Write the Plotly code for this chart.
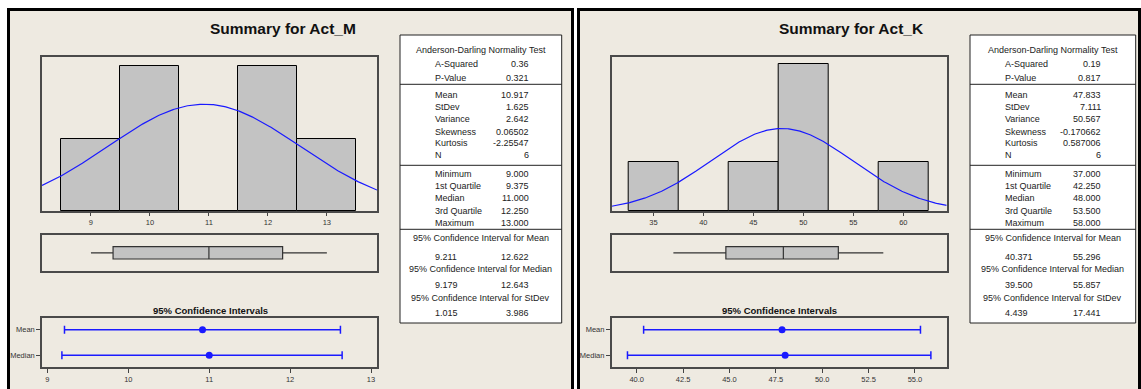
import numpy as np
import plotly.graph_objects as go

W, H = 1141, 389

# ---------------- data ----------------
M_name = "Act_M"
M_bin_centers = [9, 10, 11, 12, 13]
M_counts = [1, 2, 0, 2, 1]
M_mean, M_sd, M_n = 10.917, 1.625, 6
M_min, M_q1, M_median, M_q3, M_max = 9.0, 9.375, 11.0, 12.25, 13.0
M_ci_mean = [9.211, 12.622]
M_ci_median = [9.179, 12.643]
M_values_str = ["0.36", "0.321", "10.917", "1.625", "2.642", "0.06502", "-2.25547", "6",
                "9.000", "9.375", "11.000", "12.250", "13.000"]
M_ci_str = [["9.211", "12.622"], ["9.179", "12.643"], ["1.015", "3.986"]]

K_name = "Act_K"
K_bin_centers = [35, 40, 45, 50, 55, 60]
K_counts = [1, 0, 1, 3, 0, 1]
K_mean, K_sd, K_n = 47.833, 7.111, 6
K_min, K_q1, K_median, K_q3, K_max = 37.0, 42.25, 48.0, 53.5, 58.0
K_ci_mean = [40.371, 55.296]
K_ci_median = [39.5, 55.857]
K_values_str = ["0.19", "0.817", "47.833", "7.111", "50.567", "-0.170662", "0.587006", "6",
                "37.000", "42.250", "48.000", "53.500", "58.000"]
K_ci_str = [["40.371", "55.296"], ["39.500", "55.857"], ["4.439", "17.441"]]

stat_labels = ["A-Squared", "P-Value", "Mean", "StDev", "Variance", "Skewness", "Kurtosis", "N",
               "Minimum", "1st Quartile", "Median", "3rd Quartile", "Maximum"]
ci_headers = ["95% Confidence Interval for Mean", "95% Confidence Interval for Median",
              "95% Confidence Interval for StDev"]

# ---------------- helpers ----------------
def fx(px):
    return px / W

def fy(py):
    return 1 - py / H

BG = "#EEEAE1"
FONT = "Arial"
BLUE = "#1a1aff"

fig = go.Figure()
shapes = []
annotations = []

# panel backgrounds / borders
for (x0, x1) in [(8.5, 572.5), (578.5, 1139.5)]:
    shapes.append(dict(type="rect", xref="paper", yref="paper",
                       x0=fx(x0), x1=fx(x1), y0=fy(400), y1=fy(9.5),
                       line=dict(color="black", width=3), fillcolor=BG, layer="below"))

panels = [
    dict(name=M_name, centers=M_bin_centers, counts=M_counts, bw=1.0, mean=M_mean, sd=M_sd, n=M_n,
         box=(M_min, M_q1, M_median, M_q3, M_max), ci_mean=M_ci_mean, ci_median=M_ci_median,
         vals=M_values_str, cis=M_ci_str,
         xpx=(42, 377), hrange=[8.17, 13.85], hy=2.124, hticks=[9, 10, 11, 12, 13],
         cirange=[8.933, 13.074], citicks=[9, 10, 11, 12, 13], citext=["9", "10", "11", "12", "13"],
         title_x=283, table=(400, 561.7), lab_x=433.3, val_x=530.7),
    dict(name=K_name, centers=K_bin_centers, counts=K_counts, bw=5.0, mean=K_mean, sd=K_sd, n=K_n,
         box=(K_min, K_q1, K_median, K_q3, K_max), ci_mean=K_ci_mean, ci_median=K_ci_median,
         vals=K_values_str, cis=K_ci_str,
         xpx=(611.7, 946.7), hrange=[30.83, 64.34], hy=3.14, hticks=[35, 40, 45, 50, 55, 60],
         cirange=[38.65, 56.71], citicks=[40, 42.5, 45, 47.5, 50, 52.5, 55],
         citext=["40.0", "42.5", "45.0", "47.5", "50.0", "52.5", "55.0"],
         title_x=851, table=(970, 1135.7), lab_x=1003, val_x=1102.7),
]

layout_axes = {}
ax = 1
frame = dict(showline=True, mirror=True, linecolor="#4a4a4a", linewidth=1.5,
             showgrid=False, zeroline=False)

for p in panels:
    xd = [fx(p["xpx"][0]), fx(p["xpx"][1])]
    # ---- histogram ----
    a_h = ax
    xs = np.linspace(p["hrange"][0], p["hrange"][1], 300)
    dens = p["n"] * p["bw"] / (p["sd"] * np.sqrt(2 * np.pi)) * np.exp(-0.5 * ((xs - p["mean"]) / p["sd"]) ** 2)
    sx = "" if a_h == 1 else str(a_h)
    fig.add_trace(go.Bar(x=p["centers"], y=p["counts"], width=p["bw"],
                         marker=dict(color="#C3C3C3", line=dict(color="black", width=1)),
                         xaxis="x" + sx, yaxis="y" + sx, showlegend=False))
    fig.add_trace(go.Scatter(x=xs, y=dens, mode="lines", line=dict(color=BLUE, width=1.2),
                             xaxis="x" + sx, yaxis="y" + sx, showlegend=False))
    layout_axes["xaxis" + sx] = dict(domain=xd, range=p["hrange"], anchor="y" + sx,
                                     tickvals=p["hticks"], ticks="outside", ticklen=3,
                                     tickcolor="#444", tickfont=dict(size=7.5, color="#333", family=FONT),
                                     **frame)
    layout_axes["yaxis" + sx] = dict(domain=[fy(211), fy(57)], range=[0, p["hy"]], anchor="x" + sx,
                                     showticklabels=False, ticks="", **frame)
    ax += 1
    # ---- boxplot ----
    a_b = ax
    sb = str(a_b)
    mn, q1, md, q3, mx = p["box"]
    fig.add_trace(go.Box(q1=[q1], median=[md], q3=[q3], lowerfence=[mn], upperfence=[mx],
                         y=[0], orientation="h", width=0.69, whiskerwidth=0,
                         fillcolor="#C3C3C3", line=dict(color="#333", width=1.2),
                         boxpoints=False, xaxis="x" + sb, yaxis="y" + sb, showlegend=False))
    layout_axes["xaxis" + sb] = dict(domain=xd, range=p["hrange"], anchor="y" + sb,
                                     showticklabels=False, ticks="", **frame)
    layout_axes["yaxis" + sb] = dict(domain=[fy(270.7), fy(235)], range=[-1, 1], anchor="x" + sb,
                                     showticklabels=False, ticks="", **frame)
    ax += 1
    # ---- CI plot ----
    a_c = ax
    sc = str(a_c)
    for (yy, pt, ci) in [(1, p["mean"], p["ci_mean"]), (0, p["box"][2], p["ci_median"])]:
        fig.add_trace(go.Scatter(x=[pt], y=[yy], mode="markers",
                                 marker=dict(color=BLUE, size=7),
                                 error_x=dict(type="data", symmetric=False, array=[ci[1] - pt],
                                              arrayminus=[pt - ci[0]], color=BLUE, thickness=1.5, width=4),
                                 xaxis="x" + sc, yaxis="y" + sc, showlegend=False))
    layout_axes["xaxis" + sc] = dict(domain=xd, range=p["cirange"], anchor="y" + sc,
                                     tickvals=p["citicks"], ticktext=p["citext"], ticks="outside", ticklen=4,
                                     tickcolor="#444", tickfont=dict(size=7.5, color="#333", family=FONT),
                                     **frame)
    layout_axes["yaxis" + sc] = dict(domain=[fy(367.3), fy(317.7)], range=[-0.48, 1.48], anchor="x" + sc,
                                     tickvals=[1, 0], ticktext=["Mean", "Median"], ticks="outside", ticklen=4,
                                     tickcolor="#444", tickfont=dict(size=7.5, color="#333", family=FONT),
                                     **frame)
    ax += 1

    # ---- titles ----
    annotations.append(dict(text="<b>Summary for %s</b>" % p["name"], x=fx(p["title_x"]), y=fy(28),
                            xref="paper", yref="paper", xanchor="center", yanchor="middle", showarrow=False,
                            font=dict(size=15.5, color="#111", family=FONT)))
    annotations.append(dict(text="<b>95% Confidence Intervals</b>", x=fx((p["xpx"][0] + p["xpx"][1]) / 2 + 0.5),
                            y=fy(310), xref="paper", yref="paper", xanchor="center", yanchor="middle",
                            showarrow=False, font=dict(size=9.5, color="#111", family=FONT)))

    # ---- stats table ----
    tx0, tx1 = p["table"]
    shapes.append(dict(type="rect", xref="paper", yref="paper", x0=fx(tx0), x1=fx(tx1),
                       y0=fy(323), y1=fy(35), line=dict(color="#222", width=1), fillcolor="white"))
    for ly in [84.3, 165.3, 229.3]:
        shapes.append(dict(type="line", xref="paper", yref="paper", x0=fx(tx0), x1=fx(tx1),
                           y0=fy(ly), y1=fy(ly), line=dict(color="#222", width=1)))
    tc = (tx0 + tx1) / 2
    tf = dict(size=9, color="#222", family=FONT)
    annotations.append(dict(text="Anderson-Darling Normality Test", x=fx(tc), y=fy(50), xref="paper",
                            yref="paper", xanchor="center", yanchor="middle", showarrow=False, font=tf))
    row_y = [64.3, 77.7, 95, 107.3, 119.3, 131.7, 143.3, 155.3, 174.3, 186, 198.3, 210.7, 222.7]
    for lab, val, yy in zip(stat_labels, p["vals"], row_y):
        annotations.append(dict(text=lab, x=fx(p["lab_x"]), y=fy(yy), xref="paper", yref="paper",
                                xanchor="left", yanchor="middle", showarrow=False, font=tf))
        annotations.append(dict(text=val, x=fx(p["val_x"]), y=fy(yy), xref="paper", yref="paper",
                                xanchor="right", yanchor="middle", showarrow=False, font=tf))
    for hdr, (lo, hi), hy, vy in zip(ci_headers, p["cis"], [238.3, 269.3, 298.3], [256.7, 285, 313.3]):
        annotations.append(dict(text=hdr, x=fx(tc), y=fy(hy), xref="paper", yref="paper",
                                xanchor="center", yanchor="middle", showarrow=False, font=tf))
        annotations.append(dict(text=lo, x=fx(p["lab_x"]), y=fy(vy), xref="paper", yref="paper",
                                xanchor="left", yanchor="middle", showarrow=False, font=tf))
        annotations.append(dict(text=hi, x=fx(p["val_x"]), y=fy(vy), xref="paper", yref="paper",
                                xanchor="right", yanchor="middle", showarrow=False, font=tf))

fig.update_layout(width=W, height=H, margin=dict(l=0, r=0, t=0, b=0),
                  paper_bgcolor="white", plot_bgcolor="white", bargap=0,
                  shapes=shapes, annotations=annotations, font=dict(family=FONT),
                  **layout_axes)
fig.write_html("out.html")
